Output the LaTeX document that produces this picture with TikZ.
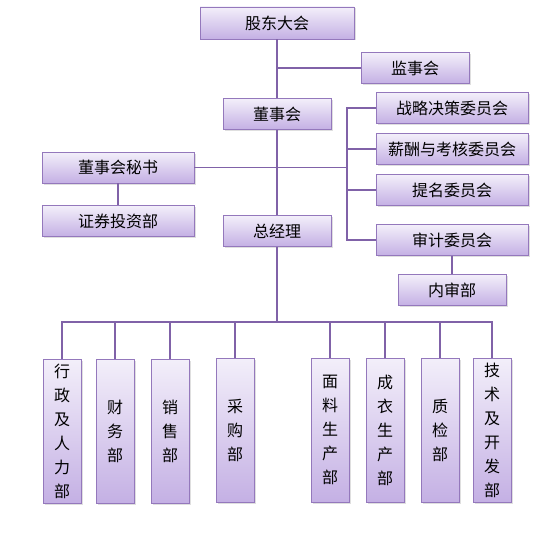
\documentclass[tikz,border=0pt]{standalone}
\usepackage{fontspec}
\newfontfamily\cjk{Noto Sans CJK SC}
\usetikzlibrary{shadows}
\definecolor{boxtop}{RGB}{243,239,250}
\definecolor{boxbot}{RGB}{196,176,228}
\definecolor{boxline}{RGB}{148,120,188}
\definecolor{linkline}{RGB}{128,98,168}

\begin{document}
\begin{tikzpicture}[x=1pt,y=-1pt,
    box/.style={draw=boxline,line width=0.8pt,top color=boxtop,bottom color=boxbot,
      drop shadow={opacity=0.25,shadow xshift=1.5pt,shadow yshift=-1.5pt},
      inner sep=0pt,font=\cjk\fontsize{16}{24}\selectfont},
    wide/.style={box,minimum width=152pt,minimum height=31pt},
    mid/.style={box,minimum width=108pt,minimum height=31pt},
    tall/.style={box,minimum width=38pt,minimum height=144pt,align=center},
    link/.style={draw=linkline,line width=1.1pt}]
      \useasboundingbox (0,0) rectangle (558,559);
      \coordinate (bus) at (277,322);
      \coordinate (brk) at (347,167.5);
      \path
        (277,23) node[box,minimum width=154pt,minimum height=32pt] (gudong){股东大会}
        (415,68) node[mid] (jianshi){监事会}
        (277,114) node[mid] (dongshi){董事会}
        (118,167.5) node[wide] (mishu){董事会秘书}
        (118,221) node[wide] (zhengquan){证券投资部}
        (277,231) node[mid] (zongjingli){总经理}
        (452,108) node[wide] (zhanlue){战略决策委员会}
        (452,149) node[wide] (xinchou){薪酬与考核委员会}
        (452,190) node[wide] (timing){提名委员会}
        (452,240) node[wide] (shenji){审计委员会}
        (452,290) node[mid] (neishen){内审部}
        (62,431) node[tall] (xingzheng){行\\政\\及\\人\\力\\部}
        (115,431) node[tall] (caiwu){财\\务\\部}
        (170,431) node[tall] (xiaoshou){销\\售\\部}
        (235,430) node[tall] (caigou){采\\购\\部}
        (330,430) node[tall] (mianliao){面\\料\\生\\产\\部}
        (385,430) node[tall] (chengyi){成\\衣\\生\\产\\部}
        (440,430) node[tall] (zhijian){质\\检\\部}
        (492,430) node[tall] (jishu){技\\术\\及\\开\\发\\部};
      \begin{scope}[link]
        \draw (gudong) to (dongshi);
        \draw (jianshi.west) to (jianshi.west -| gudong.south);
        \draw (dongshi) to (zongjingli);
        \draw (mishu) to (zhengquan);
        \draw (mishu) to (brk);
        \draw (zhanlue.west) -| (brk);
        \draw (xinchou.west) -| (brk);
        \draw (timing.west) -| (brk);
        \draw (shenji.west) -| (brk);
        \draw (shenji) to (neishen);
        \draw (zongjingli) to (bus);
        \foreach \dept in {xingzheng,caiwu,xiaoshou,caigou,mianliao,chengyi,zhijian,jishu}
          \draw (\dept.north) |- (bus);
      \end{scope}
    \end{tikzpicture}
\end{document}
